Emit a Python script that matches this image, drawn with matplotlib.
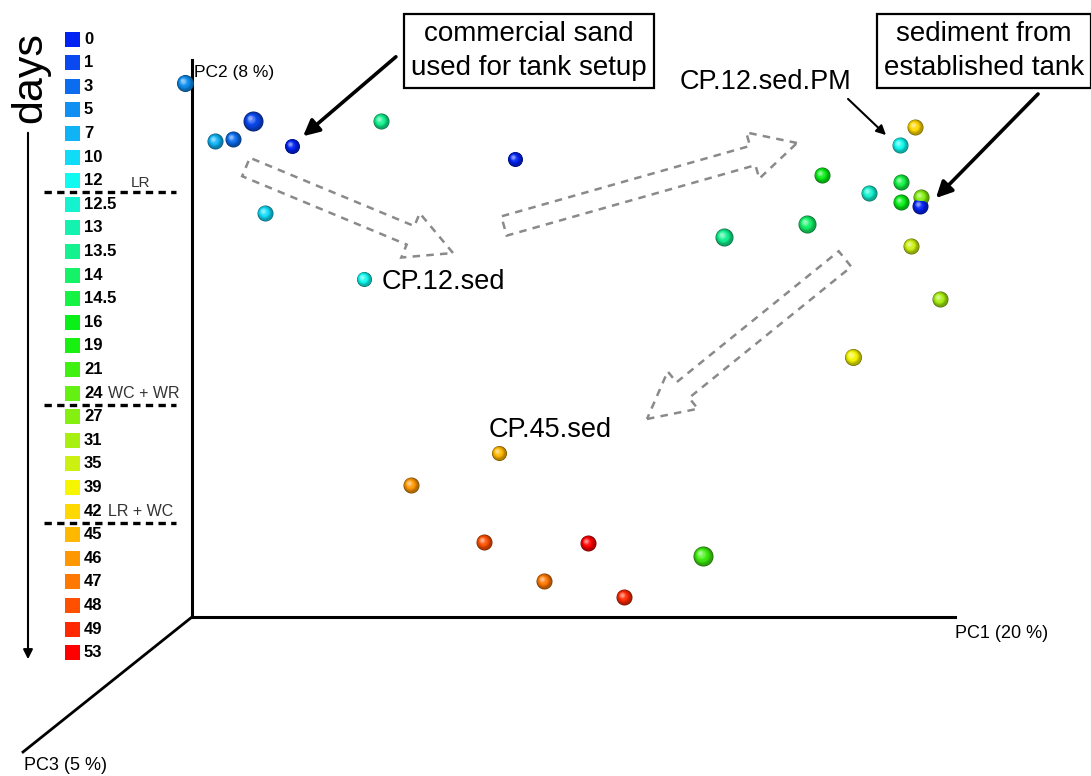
import matplotlib.pyplot as plt
import matplotlib.patches as mpatches
import numpy as np

# legend: sampling days and their colours
days = ["0", "1", "3", "5", "7", "10", "12", "12.5", "13", "13.5", "14",
        "14.5", "16", "19", "21", "24", "27", "31", "35", "39", "42", "45",
        "46", "47", "48", "49", "53"]
day_colors = ["#0022F2", "#0A48F0", "#0C6CF0", "#1090F2", "#10B4F6",
              "#10DCF8", "#10FAF0", "#14F2D0", "#14F2B0", "#14F290",
              "#14F268", "#14F244", "#08F018", "#18F010", "#40F010",
              "#64F010", "#84F010", "#A8F010", "#CCF010", "#F6F600",
              "#FFD800", "#FFB800", "#FF9800", "#FF7800", "#FF5000",
              "#FF2800", "#FF0000"]

# treatment events drawn as dashed separators (after these days)
event_after = ["12", "24", "42"]
event_labels = ["LR", "WC + WR", "LR + WC"]

# samples projected onto the page (PC1 across, PC2 up, PC3 into depth)
sample_x = [185, 215, 233, 253, 292, 381, 515, 265, 364,
            915, 900, 822, 901, 869, 901, 921, 920, 807, 724, 911, 940, 853,
            499, 411, 484, 588, 703, 544, 624]
sample_y = [83, 141, 139, 121, 146, 121, 159, 213, 279,
            127, 145, 175, 182, 193, 202, 197, 206, 224, 237, 246, 299, 357,
            453, 485, 542, 543, 556, 581, 597]
sample_day = ["5", "7", "3", "1", "0", "13.5", "0", "10", "12",
              "42", "12", "16", "14.5", "12.5", "16", "27", "0", "14", "13.5",
              "35", "31", "39",
              "45", "46", "48", "53", "21", "47", "49"]
sample_r = [8.5, 8, 8, 10, 7.5, 8, 7.5, 8, 7.5,
            8, 8, 8, 8, 8, 8, 8, 8, 9, 9, 8, 8, 8.5,
            7.5, 8, 8, 8, 10, 8, 8]


def _sphere(ax, x, y, r, color):
    c = np.array(plt.matplotlib.colors.to_rgb(color))
    dark = c * 0.45
    n = 14
    for k in range(n):
        t = k / (n - 1)
        rr = r * (1 - 0.85 * t)
        cx = x - 0.3 * r * t
        cy = y - 0.3 * r * t
        if t < 0.55:
            col = dark + (c - dark) * (t / 0.55) ** 0.6
        else:
            col = c + (np.ones(3) - c) * ((t - 0.55) / 0.45) * 0.55
        ax.scatter([cx], [cy], s=(2 * rr * 0.72) ** 2, color=col,
                   linewidths=0, zorder=5 + k * 0.01)


fig = plt.figure(figsize=(10.91, 7.76), dpi=100)
ax = fig.add_axes([0, 0, 1, 1])
ax.set_xlim(0, 1091)
ax.set_ylim(776, 0)
ax.axis("off")

font = "Liberation Sans"

# =====================================
# PSEUDO 3D AXES
# =====================================

ax.plot([192, 192], [60, 617], color="black", lw=2.2, zorder=2)
ax.plot([192, 955], [617, 617], color="black", lw=2.2, zorder=2)
ax.plot([192, 23], [617, 752], color="black", lw=2.0, zorder=2)

ax.text(194, 72, "PC2 (8 %)", fontsize=12.5, family=font,
        ha="left", va="center")
ax.text(955, 634, "PC1 (20 %)", fontsize=13, family=font,
        ha="left", va="center")
ax.text(24, 766, "PC3 (5 %)", fontsize=13, family=font,
        ha="left", va="center")

# =====================================
# LEGEND
# =====================================

y0 = 39
step = 23.6
for i, (d, col) in enumerate(zip(days, day_colors)):
    yy = y0 + i * step
    ax.add_patch(mpatches.Rectangle((65, yy - 7.5), 15, 15,
                                    facecolor=col, edgecolor="none"))
    ax.text(84, yy, d, fontsize=12, fontweight="bold", family=font,
            ha="left", va="center")

for d, lab in zip(event_after, event_labels):
    i = days.index(d)
    yy = y0 + (i + 0.5) * step
    ax.plot([44, 176], [yy, yy], color="black", lw=2.4,
            linestyle=(0, (2.2, 1.6)))
    if lab == "LR":
        ax.text(131, yy - 9, lab, fontsize=11, family=font, color="#333333",
                ha="left", va="center")
    else:
        ax.text(108, yy - 11.8, lab, fontsize=11.5, family=font,
                color="#333333", ha="left", va="center")

ax.text(30, 78, "days", fontsize=31, family=font, rotation=90,
        ha="center", va="center")
ax.annotate("", xy=(28, 662), xytext=(28, 130),
            arrowprops=dict(arrowstyle="-|>", color="black", lw=1.5,
                            mutation_scale=14))

# =====================================
# HOLLOW DASHED TREND ARROWS
# =====================================

trend_tail = [(246, 167), (504, 226), (845, 259)]
trend_tip = [(453, 253), (797, 143), (647, 419)]
for (x0, y0_), (x1, y1) in zip(trend_tail, trend_tip):
    dx = x1 - x0
    dy = y1 - y0_
    arr = mpatches.FancyArrow(x0, y0_, dx, dy, width=20, head_width=48,
                              head_length=46, length_includes_head=True,
                              fill=False, edgecolor="#8a8a8a",
                              linestyle=(0, (3, 2.5)), lw=1.8, zorder=3)
    ax.add_patch(arr)

# =====================================
# SAMPLES
# =====================================

for x, y, d, r in zip(sample_x, sample_y, sample_day, sample_r):
    _sphere(ax, x, y, r, day_colors[days.index(d)])

# =====================================
# ANNOTATIONS
# =====================================

box = dict(boxstyle="square,pad=0.25", facecolor="white",
           edgecolor="black", lw=1.6)

ax.text(529, 51, "commercial sand\nused for tank setup", fontsize=20,
        family=font, ha="center", va="center", linespacing=1.4,
        bbox=box, zorder=8)
ax.text(984, 51, "sediment from\nestablished tank", fontsize=20,
        family=font, ha="center", va="center", linespacing=1.4,
        bbox=box, zorder=8)

ax.annotate("", xy=(301, 138), xytext=(398, 55),
            arrowprops=dict(arrowstyle="-|>", color="black", lw=2.6,
                            mutation_scale=24), zorder=7)
ax.annotate("", xy=(934, 200), xytext=(1040, 92),
            arrowprops=dict(arrowstyle="-|>", color="black", lw=2.6,
                            mutation_scale=24), zorder=7)
ax.annotate("", xy=(888, 137), xytext=(846, 97),
            arrowprops=dict(arrowstyle="-|>", color="black", lw=1.5,
                            mutation_scale=14), zorder=7)

ax.text(382, 282, "CP.12.sed", fontsize=19.5, family=font,
        ha="left", va="center")
ax.text(680, 82, "CP.12.sed.PM", fontsize=19.5, family=font,
        ha="left", va="center")
ax.text(489, 430, "CP.45.sed", fontsize=19.5, family=font,
        ha="left", va="center")

fig.savefig("out.png", dpi=100)
plt.close(fig)
